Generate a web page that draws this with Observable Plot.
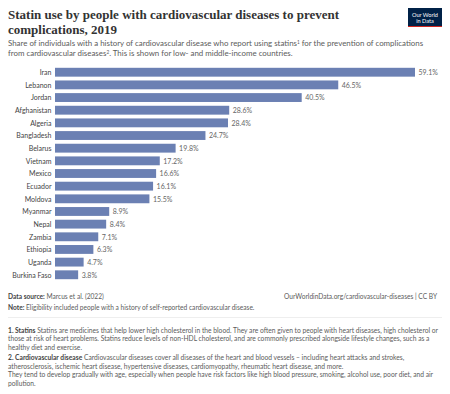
<!DOCTYPE html>
<html>
<head>
<meta charset="utf-8">
<script src="https://cdn.jsdelivr.net/npm/d3@7"></script>
<script src="https://cdn.jsdelivr.net/npm/@observablehq/plot@0.6"></script>
<style>
  html, body { margin: 0; padding: 0; background: #fff; }
  #page { position: relative; width: 450px; height: 394px; overflow: hidden; font-family: Lato, "Noto Sans", sans-serif; }
  #title { position: absolute; left: 8px; top: 8px; width: 390px; font-family: "Liberation Serif", "DejaVu Serif", serif; font-weight: 700; font-size: 13px; line-height: 14.5px; color: #333; }
  #subtitle { position: absolute; left: 8px; top: 39px; width: 425px; font-size: 7.9px; line-height: 9.8px; color: #5b5b5b; }
  #logo { position: absolute; left: 408px; top: 8px; width: 34px; height: 19px; background: #002147; border-bottom: 1.5px solid #ce261e; color: #fff; font-size: 5.6px; line-height: 6px; text-align: center; box-sizing: border-box; padding-top: 4px; }
  #chart { position: absolute; left: 0; top: 64.3px; }
  #src { position: absolute; left: 8px; top: 291px; font-size: 6.6px; line-height: 11px; color: #5b5b5b; }
  #src b { color: #444; font-weight: 700; }
  #url { position: absolute; right: 13px; top: 291px; font-size: 6.6px; line-height: 11px; color: #5b5b5b; }
  #rule { position: absolute; left: 8px; right: 8px; top: 317px; border-top: 1px solid #eee; }
  #notes { position: absolute; left: 8px; top: 325.5px; width: 438px; font-size: 6.7px; line-height: 8.5px; color: #5b5b5b; }
  #notes p { margin: 0 0 2px 0; }
  #notes b { color: #444; }
  sup { font-size: 60%; line-height: 0; vertical-align: 0.5em; }
</style>
</head>
<body>
<div id="page">
  <div id="title">Statin use by people with cardiovascular diseases to prevent complications, 2019</div>
  <div id="logo">Our World<br>in Data</div>
  <div id="subtitle">Share of individuals with a history of cardiovascular disease who report using statins<sup>1</sup> for the prevention of complications from cardiovascular diseases<sup>2</sup>. This is shown for low- and middle-income countries.</div>
  <div id="chart"></div>
  <div id="src"><b>Data source:</b> Marcus et al. (2022)<br><b>Note:</b> Eligibility included people with a history of self-reported cardiovascular disease.</div>
  <div id="url">OurWorldinData.org/cardiovascular-diseases | CC BY</div>
  <div id="rule"></div>
  <div id="notes">
    <p><b>1. Statins</b> Statins are medicines that help lower high cholesterol in the blood. They are often given to people with heart diseases, high cholesterol or those at risk of heart problems. Statins reduce levels of non-HDL cholesterol, and are commonly prescribed alongside lifestyle changes, such as a healthy diet and exercise.</p>
    <p><b>2. Cardiovascular disease</b> Cardiovascular diseases cover all diseases of the heart and blood vessels – including heart attacks and strokes, atherosclerosis, ischemic heart disease, hypertensive diseases, cardiomyopathy, rheumatic heart disease, and more.<br>They tend to develop gradually with age, especially when people have risk factors like high blood pressure, smoking, alcohol use, poor diet, and air pollution.</p>
  </div>
</div>
<script>
const countries = ["Iran","Lebanon","Jordan","Afghanistan","Algeria","Bangladesh","Belarus","Vietnam","Mexico","Ecuador","Moldova","Myanmar","Nepal","Zambia","Ethiopia","Uganda","Burkina Faso"];
const values = [59.1,46.5,40.5,28.6,28.4,24.7,19.8,17.2,16.6,16.1,15.5,8.9,8.4,7.1,6.3,4.7,3.8];
const data = countries.map((c, i) => ({country: c, value: values[i]}));

const chart = Plot.plot({
  width: 450,
  height: 219,
  marginLeft: 55,
  marginRight: 35,
  marginTop: 0,
  marginBottom: 0,
  style: {fontFamily: "Lato, sans-serif", fontSize: "7px", background: "transparent"},
  x: {domain: [0, 59.1], axis: null},
  y: {domain: countries, padding: 0.3, round: false, label: null, axis: null},
  marks: [
    Plot.axisY({tickSize: 0, tickPadding: 4, fill: "#444", fontSize: 7, label: null}),
    Plot.barX(data, {x: "value", y: "country", fill: "#6b80b3"}),
    Plot.text(data, {x: "value", y: "country", text: d => d.value.toFixed(1) + "%", textAnchor: "start", dx: 3, fill: "#666", fontSize: 7})
  ]
});
document.getElementById("chart").appendChild(chart);
</script>
</body>
</html>
